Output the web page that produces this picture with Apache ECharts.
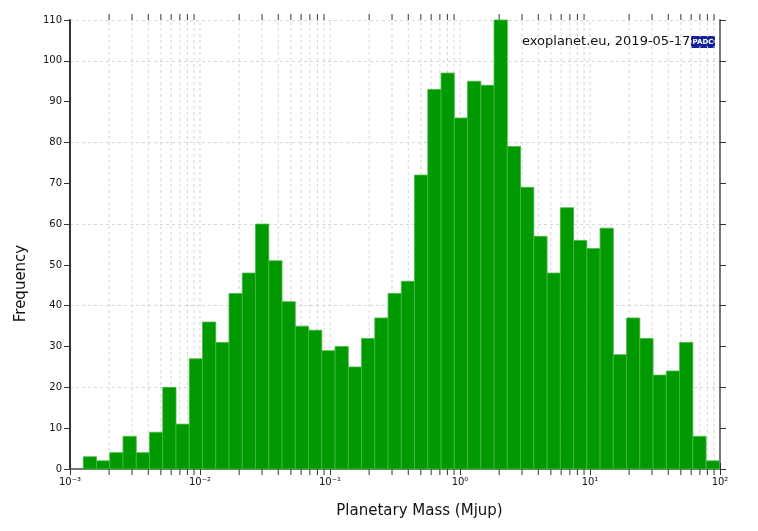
<!DOCTYPE html>
<html>
<head>
<meta charset="utf-8">
<script src="https://cdn.jsdelivr.net/npm/echarts@6/dist/echarts.min.js"></script>
<style>
html,body{margin:0;padding:0;background:#fff;}
#chart{width:758px;height:531px;}
</style>
</head>
<body>
<div id="chart"></div>
<script>
// Histogram counts per log-spaced mass bin (Mjup)
const counts = [3,2,4,8,4,9,20,11,27,36,31,43,48,60,51,41,35,34,29,30,25,32,37,43,46,72,93,97,86,95,94,110,79,69,57,48,64,56,54,59,28,37,32,23,24,31,8,2];
// log10 of first and last bin edge
const binLogMin = -2.898;
const binLogMax = 1.995;
const xTickLabels = ['10\u207B\u00B3','10\u207B\u00B2','10\u207B\u00B9','10\u2070','10\u00B9','10\u00B2'];
const xMin = 0.001, xMax = 100;
const yMin = 0, yMax = 110;
const minorMultipliers = [2,3,4,5,6,7,8,9];
const decadeExps = [-3,-2,-1,0,1];
const innerMajors = [0.01, 0.1, 1, 10];
const annotation = 'exoplanet.eu, 2019-05-17';

// build bins
const nb = counts.length;
const step = (binLogMax - binLogMin) / nb;
const barData = counts.map((c, i) => [Math.pow(10, binLogMin + i*step), Math.pow(10, binLogMin + (i+1)*step), c]);

// gridline / minor tick positions
const gridData = [];
decadeExps.forEach(e => minorMultipliers.forEach(m => gridData.push([m*Math.pow(10,e), 1])));
innerMajors.forEach(v => gridData.push([v, 0]));

const FONT = 'DejaVu Sans';
const chart = echarts.init(document.getElementById('chart'));
const option = {
  animation: false,
  backgroundColor: '#ffffff',
  textStyle: {fontFamily: FONT},
  grid: {left: 70, right: 38, top: 20, bottom: 62, containLabel: false},
  xAxis: [
    {
      type: 'log', logBase: 10, min: xMin, max: xMax, position: 'bottom',
      name: 'Planetary Mass (Mjup)', nameLocation: 'middle', nameGap: 35,
      nameTextStyle: {fontFamily: FONT, fontSize: 15, color: '#111', padding: [0, 0, 0, 49]},
      axisLine: {show: true, lineStyle: {color: '#333', width: 2}},
      axisTick: {show: true, inside: false, length: 6, lineStyle: {color: '#333', width: 1}},
      axisLabel: {fontFamily: FONT, fontSize: 10, color: '#111', margin: 8,
        formatter: v => xTickLabels[Math.round(Math.log10(v)) + 3] || ''},
      splitLine: {show: false}, minorTick: {show: false}
    },
    {
      type: 'log', logBase: 10, min: xMin, max: xMax, position: 'top',
      axisLine: {show: true, lineStyle: {color: '#777', width: 2}},
      axisTick: {show: true, inside: false, length: 6, lineStyle: {color: '#333', width: 1}},
      axisLabel: {show: false}, splitLine: {show: false}
    }
  ],
  yAxis: [
    {
      type: 'value', min: yMin, max: yMax, interval: 10, position: 'left',
      name: 'Frequency', nameLocation: 'middle', nameGap: 41,
      nameTextStyle: {fontFamily: FONT, fontSize: 15, color: '#111', padding: [0, 78, 0, 0]},
      axisLine: {show: true, lineStyle: {color: '#333', width: 2}},
      axisTick: {show: true, inside: false, length: 6, lineStyle: {color: '#333', width: 1}},
      axisLabel: {fontFamily: FONT, fontSize: 10, color: '#111', margin: 8},
      splitLine: {show: false}
    },
    {
      type: 'value', min: yMin, max: yMax, interval: 10, position: 'right',
      axisLine: {show: true, lineStyle: {color: '#777', width: 2}},
      axisTick: {show: true, inside: false, length: 6, lineStyle: {color: '#333', width: 1}},
      axisLabel: {show: false}, splitLine: {show: false}
    },
    {
      type: 'value', min: yMin, max: yMax, interval: 20, position: 'left', show: true,
      axisLine: {show: false}, axisTick: {show: false}, axisLabel: {show: false},
      splitLine: {show: true, lineStyle: {color: '#d6d6d6', type: [3, 3], width: 1}}
    }
  ],
  series: [
    {
      type: 'custom', name: 'grid', xAxisIndex: 0, yAxisIndex: 0, z: 1, silent: true,
      data: gridData, encode: {x: 0, y: 1},
      renderItem: (params, api) => {
        const v = api.value(0);
        const minor = api.value(1);
        const b = api.coord([v, yMin]);
        const t = api.coord([v, yMax]);
        const ch = [{type: 'line', shape: {x1: b[0], y1: b[1], x2: t[0], y2: t[1]},
          style: {stroke: '#d6d6d6', lineDash: [3, 3], lineWidth: 1}}];
        if (minor) {
          ch.push({type: 'line', shape: {x1: b[0], y1: b[1], x2: b[0], y2: b[1] + 6}, style: {stroke: '#333', lineWidth: 1}});
          ch.push({type: 'line', shape: {x1: t[0], y1: t[1], x2: t[0], y2: t[1] - 6}, style: {stroke: '#333', lineWidth: 1}});
        }
        return {type: 'group', children: ch};
      }
    },
    {
      type: 'custom', name: 'Frequency', xAxisIndex: 0, yAxisIndex: 0, z: 3,
      data: barData, encode: {x: [0, 1], y: 2},
      renderItem: (params, api) => {
        const p0 = api.coord([api.value(0), 0]);
        const p1 = api.coord([api.value(1), api.value(2)]);
        return {type: 'rect', shape: {x: p0[0], y: p1[1], width: p1[0] - p0[0], height: p0[1] - p1[1]},
          style: {fill: '#009900', stroke: '#45b845', lineWidth: 0.8}};
      }
    }
  ],
  graphic: [
    {type: 'text', left: 522, top: 35, z: 10,
      style: {text: annotation, font: '13px "DejaVu Sans"', fill: '#111'}},
    {type: 'group', left: 691, top: 36, z: 10, children: [
      {type: 'rect', shape: {x: 0, y: 0, width: 24, height: 12}, style: {fill: '#13209a'}},
      {type: 'text', x: 12, y: 6, style: {text: 'PADC', font: 'bold 7px "DejaVu Sans"', fill: '#ffffff', align: 'center', verticalAlign: 'middle'}}
    ]}
  ]
};
chart.setOption(option);
</script>
</body>
</html>
